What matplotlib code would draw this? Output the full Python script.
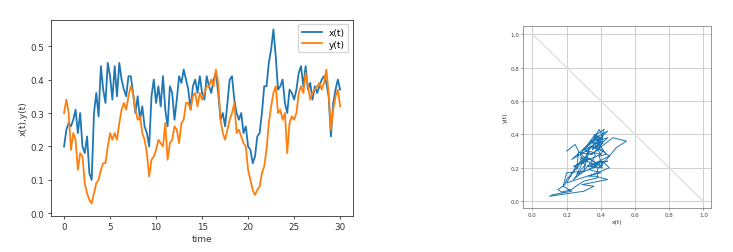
import numpy as np
import matplotlib
matplotlib.use('Agg')
import matplotlib.pyplot as plt

# time grid (0.25 steps) and values
t = np.arange(0, 30.01, 0.25)

x_vals = [
    0.20, 0.25, 0.27, 0.26, 0.28, 0.31, 0.24, 0.30, 0.20, 0.18,
    0.23, 0.12, 0.10, 0.30, 0.36, 0.29, 0.44, 0.37, 0.33, 0.45,
    0.41, 0.34, 0.44, 0.35, 0.45, 0.40, 0.37, 0.35, 0.41, 0.41,
    0.36, 0.30, 0.35, 0.28, 0.32, 0.26, 0.24, 0.20, 0.35, 0.40,
    0.33, 0.38, 0.32, 0.41, 0.31, 0.26, 0.38, 0.36, 0.28, 0.34,
    0.41, 0.39, 0.43, 0.40, 0.37, 0.31, 0.38, 0.40, 0.36, 0.41,
    0.36, 0.34, 0.41, 0.38, 0.36, 0.40, 0.42, 0.36, 0.28, 0.30,
    0.26, 0.33, 0.40, 0.41, 0.34, 0.30, 0.28, 0.30, 0.24, 0.26,
    0.20, 0.19, 0.15, 0.17, 0.23, 0.24, 0.30, 0.38, 0.38, 0.45,
    0.49, 0.55, 0.47, 0.37, 0.38, 0.40, 0.33, 0.30, 0.37, 0.36,
    0.34, 0.37, 0.42, 0.44, 0.38, 0.44, 0.37, 0.39, 0.34, 0.38,
    0.36, 0.38, 0.40, 0.41, 0.39, 0.35, 0.23, 0.33, 0.37, 0.40,
    0.37,
]

y_vals = [
    0.30, 0.34, 0.30, 0.19, 0.24, 0.22, 0.13, 0.18, 0.17, 0.09,
    0.06, 0.04, 0.03, 0.06, 0.09, 0.10, 0.13, 0.15, 0.15, 0.20,
    0.24, 0.22, 0.24, 0.22, 0.27, 0.31, 0.33, 0.31, 0.35, 0.38,
    0.36, 0.31, 0.28, 0.29, 0.24, 0.22, 0.18, 0.11, 0.16, 0.17,
    0.19, 0.22, 0.21, 0.20, 0.27, 0.16, 0.21, 0.22, 0.26, 0.25,
    0.21, 0.27, 0.28, 0.33, 0.33, 0.31, 0.35, 0.36, 0.32, 0.36,
    0.34, 0.36, 0.38, 0.38, 0.40, 0.38, 0.43, 0.39, 0.28, 0.24,
    0.22, 0.25, 0.28, 0.30, 0.33, 0.24, 0.25, 0.23, 0.21, 0.20,
    0.13, 0.10, 0.07, 0.055, 0.07, 0.08, 0.12, 0.14, 0.19, 0.27,
    0.32, 0.36, 0.38, 0.30, 0.31, 0.28, 0.30, 0.18, 0.27, 0.29,
    0.28, 0.30, 0.36, 0.38, 0.36, 0.42, 0.38, 0.34, 0.36, 0.37,
    0.38, 0.39, 0.37, 0.39, 0.43, 0.36, 0.25, 0.31, 0.35, 0.37,
    0.32,
]

x = np.array(x_vals)
y = np.array(y_vals)

fig = plt.figure(figsize=(7.33, 2.53), dpi=100)

# ── left: time series ──
ax1 = fig.add_axes([0.0692, 0.1435, 0.4124, 0.7747])
ax1.plot(t, x, color='#1f77b4', linewidth=1.3, label='x(t)')
ax1.plot(t, y, color='#ff7f0e', linewidth=1.3, label='y(t)')
ax1.set_xlim(-1.45, 31.4)
ax1.set_ylim(-0.007, 0.579)
ax1.set_xlabel('time', fontsize=6.5, color='#333333', labelpad=2)
ax1.set_ylabel('x(t),y(t)', fontsize=6.5, color='#333333', labelpad=2)
ax1.tick_params(labelsize=6.3, length=2.5, width=0.6, pad=2, colors='#333333')
for s in ax1.spines.values():
    s.set_linewidth(0.6)
    s.set_color('#333333')
ax1.legend(loc='upper right', fontsize=6.5, handlelength=2.2, borderpad=0.4,
           labelspacing=0.3, framealpha=0.8)

# ── right: phase plot ──
ax2 = fig.add_axes([0.714, 0.174, 0.256, 0.7205])
ax2.plot([0, 1], [1, 0], color='#dddddd', linewidth=0.9)
ax2.plot(x, y, color='#1f77b4', linewidth=0.7)
ax2.set_xlim(-0.053, 1.045)
ax2.set_ylim(-0.04, 1.05)
ax2.set_xticks(np.arange(0, 1.01, 0.2))
ax2.set_yticks(np.arange(0, 1.01, 0.2))
ax2.grid(True, color='#c8c8c8', linewidth=0.6)
ax2.set_xlabel('x(t)', fontsize=4.3, color='#333333', labelpad=1.5)
ax2.set_ylabel('y(t)', fontsize=4.3, color='#333333', labelpad=1.5)
ax2.tick_params(labelsize=4.1, length=1.5, width=0.4, pad=1.5, colors='#444444')
for s in ax2.spines.values():
    s.set_linewidth(0.6)
    s.set_color('#888888')

fig.savefig('out.png', dpi=100)
